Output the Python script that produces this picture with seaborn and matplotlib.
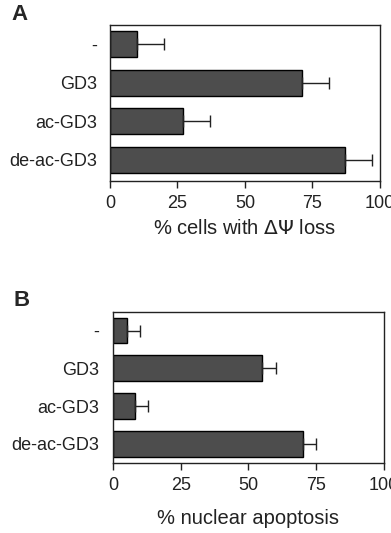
import numpy as np
import pandas as pd
import matplotlib
matplotlib.use("Agg")
import matplotlib.pyplot as plt
import seaborn as sns

# data
treatments = ["-", "GD3", "ac-GD3", "de-ac-GD3"]
dpsi_loss = [10, 71, 27, 87]
dpsi_err = [10, 10, 10, 10]
apoptosis = [5, 55, 8, 70]
apoptosis_err = [5, 5, 5, 5]
xticks = [0, 25, 50, 75, 100]

sns.set_style("white")
plt.rcParams["font.family"] = ["Liberation Sans", "DejaVu Sans"]

fig = plt.figure(figsize=(3.91, 5.33), dpi=100)
ax_a = fig.add_axes([0.2813, 0.6604, 0.6905, 0.2927])
ax_b = fig.add_axes([0.289, 0.1319, 0.693, 0.2833])


def panel(ax, vals, errs, xlabel, ylim, ypad, labelpad):
    df = pd.DataFrame({"treatment": treatments, "value": vals})
    sns.barplot(data=df, x="value", y="treatment", orient="h", ax=ax,
                color="#4d4d4d", saturation=1, width=0.68,
                edgecolor="black", linewidth=1.0)
    pos = np.arange(len(treatments))
    ax.errorbar(vals, pos, xerr=[np.zeros(len(errs)), errs], fmt="none",
                ecolor="#222222", elinewidth=1.0, capsize=4, capthick=1.0)
    ax.set_xlim(0, 100)
    ax.set_ylim(*ylim)
    ax.set_xticks(xticks)
    ax.set_xlabel(xlabel, fontsize=14.5, labelpad=labelpad, color="#222222")
    ax.set_ylabel("")
    for s in ax.spines.values():
        s.set_visible(True)
        s.set_color("#222222")
        s.set_linewidth(1.0)
    ax.tick_params(axis="x", bottom=True, length=5, width=1, pad=5,
                   labelsize=13, color="#222222", labelcolor="#222222")
    ax.tick_params(axis="y", left=False, length=0, pad=ypad, labelsize=13,
                   labelcolor="#222222")


panel(ax_a, dpsi_loss, dpsi_err, "% cells with $\\Delta\\Psi$ loss", (3.55, -0.5), 9, 5)
panel(ax_b, apoptosis, apoptosis_err, "% nuclear apoptosis", (3.5, -0.5), 10, 11)

fig.text(0.03, 0.972, "A", fontsize=16, fontweight="bold", va="center")
fig.text(0.035, 0.437, "B", fontsize=16, fontweight="bold", va="center")

fig.savefig("out.png", dpi=100)
